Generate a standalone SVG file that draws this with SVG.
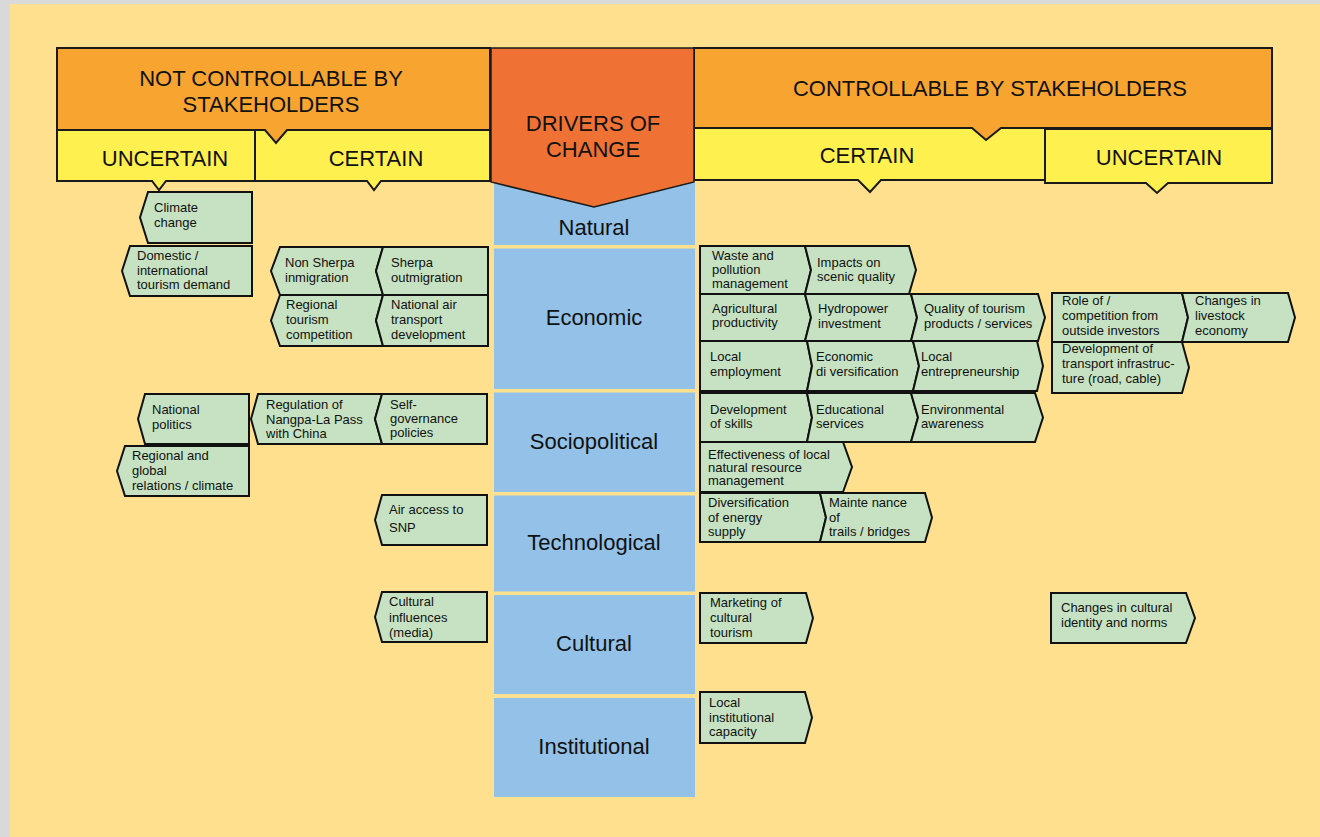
<svg xmlns="http://www.w3.org/2000/svg" width="1320" height="837" viewBox="0 0 1320 837">
<style>
.hdr{fill:#F7A431;stroke:#1a1a1a;stroke-width:2;stroke-linejoin:miter}
.yel{fill:#FEF04E;stroke:#1a1a1a;stroke-width:2}
.ctr{fill:#F07134;stroke:#1a1a1a;stroke-width:1.5}
.blue{fill:#93C1E7}
.node{fill:#C6E2C2;stroke:#111;stroke-width:2;stroke-linejoin:miter}
.ht{font-family:"Liberation Sans",Arial,sans-serif;font-size:22px;fill:#111;text-anchor:middle}
.bt{font-family:"Liberation Sans",Arial,sans-serif;font-size:22px;fill:#111;text-anchor:middle}
.nt{font-family:"Liberation Sans",Arial,sans-serif;font-size:13px;fill:#111}
</style>
<rect x="0" y="0" width="1320" height="837" fill="#D9D9D9"/>
<rect x="10" y="4" width="1310" height="833" fill="#FEE08F"/>

<g id="header-left">
<path class="yel" d="M57,130 H255 V181 H166 L159,190 L152,181 H57 Z"/>
<path class="yel" d="M255,130 H490 V181 H381 L374,190 L367,181 H255 Z"/>
<path class="hdr" d="M57,48 H490 V130 H287 L276,143 L265,130 H57 Z"/>
<text class="ht" x="271" y="86">NOT CONTROLLABLE BY</text>
<text class="ht" x="271" y="112">STAKEHOLDERS</text>
<text class="ht" x="165" y="166">UNCERTAIN</text>
<text class="ht" x="376" y="166">CERTAIN</text>
</g>

<g id="header-right">
<path class="yel" d="M694,128 H1045 V180 H881 L870,192 L858,180 H694 Z"/>
<path class="yel" d="M1045,129 H1272 V183 H1168 L1157,193 L1146,183 H1045 Z"/>
<path class="hdr" d="M694,48 H1272 V128 H1001 L986,140 L972,128 H694 Z"/>
<text class="ht" x="990" y="96">CONTROLLABLE BY STAKEHOLDERS</text>
<text class="ht" x="867" y="163">CERTAIN</text>
<text class="ht" x="1159" y="165">UNCERTAIN</text>
</g>

<g id="drivers">
<rect class="blue" x="494" y="183" width="201" height="62"/>
<rect class="blue" x="494" y="248.5" width="201" height="140.5"/>
<rect class="blue" x="494" y="392.5" width="201" height="99.5"/>
<rect class="blue" x="494" y="495.5" width="201" height="96"/>
<rect class="blue" x="494" y="595" width="201" height="99"/>
<rect class="blue" x="494" y="698" width="201" height="99"/>
<path class="ctr" d="M491,48 H694 V182 L594,207 L491,182 Z"/>
<text class="ht" x="593" y="131">DRIVERS OF</text>
<text class="ht" x="593" y="157">CHANGE</text>
<text class="bt" x="594" y="235">Natural</text>
<text class="bt" x="594" y="325">Economic</text>
<text class="bt" x="594" y="449">Sociopolitical</text>
<text class="bt" x="594" y="550">Technological</text>
<text class="bt" x="594" y="651">Cultural</text>
<text class="bt" x="594" y="754">Institutional</text>
</g>

<g id="connectors"></g>

<g id="n-climate"><path class="node" d="M148,192 H252 V243 H148 L140,217.5 Z"/>
<text class="nt" x="154"><tspan x="154" y="212">Climate</tspan><tspan x="154" y="227">change</tspan></text></g>
<g id="n-domestic"><path class="node" d="M130,246 H252 V296 H130 L122,271 Z"/>
<text class="nt"><tspan x="137" y="260">Domestic /</tspan><tspan x="137" y="275">international</tspan><tspan x="137" y="289">tourism demand</tspan></text></g>
<g id="n-nonsherpa"><path class="node" d="M280,247 H383 L376,271 L383,295 H280 L271,271 Z"/>
<text class="nt"><tspan x="285" y="267">Non Sherpa</tspan><tspan x="285" y="282">inmigration</tspan></text></g>
<g id="n-sherpa"><path class="node" d="M383,247 H488 V295 H383 L376,271 Z"/>
<text class="nt"><tspan x="391" y="267">Sherpa</tspan><tspan x="391" y="282">outmigration</tspan></text></g>
<g id="n-regtourism"><path class="node" d="M280,295 H383 L376,320.5 L383,346 H280 L271,320.5 Z"/>
<text class="nt"><tspan x="286" y="309">Regional</tspan><tspan x="286" y="324">tourism</tspan><tspan x="286" y="339">competition</tspan></text></g>
<g id="n-natair"><path class="node" d="M383,295 H488 V346 H383 L376,320.5 Z"/>
<text class="nt"><tspan x="391" y="309">National air</tspan><tspan x="391" y="324">transport</tspan><tspan x="391" y="339">development</tspan></text></g>
<g id="n-natpolitics"><path class="node" d="M145,394 H249 V444 H145 L138,419 Z"/>
<text class="nt"><tspan x="152" y="414">National</tspan><tspan x="152" y="429">politics</tspan></text></g>
<g id="n-regglobal"><path class="node" d="M125,446 H249 V496 H125 L117,471 Z"/>
<text class="nt"><tspan x="132" y="460">Regional and</tspan><tspan x="132" y="475">global</tspan><tspan x="132" y="490">relations / climate</tspan></text></g>
<g id="n-nangpa"><path class="node" d="M258,394 H382 L375,419 L382,444 H258 L251,419 Z"/>
<text class="nt"><tspan x="266" y="409">Regulation of</tspan><tspan x="266" y="424">Nangpa-La Pass</tspan><tspan x="266" y="438">with China</tspan></text></g>
<g id="n-selfgov"><path class="node" d="M382,394 H487 V444 H382 L375,419 Z"/>
<text class="nt"><tspan x="390" y="409">Self-</tspan><tspan x="390" y="423">governance</tspan><tspan x="390" y="437">policies</tspan></text></g>
<g id="n-airaccess"><path class="node" d="M382,495 H487 V545 H382 L375,520 Z"/>
<text class="nt"><tspan x="389" y="514">Air access to</tspan><tspan x="389" y="532">SNP</tspan></text></g>
<g id="n-culturalinfl"><path class="node" d="M382,592 H487 V642 H382 L375,617 Z"/>
<text class="nt"><tspan x="389" y="606">Cultural</tspan><tspan x="389" y="622">influences</tspan><tspan x="389" y="637">(media)</tspan></text></g>

<g id="n-waste"><path class="node" d="M700,246 H805 L811,270 L805,294 H700 Z"/>
<text class="nt"><tspan x="712" y="260">Waste and</tspan><tspan x="712" y="274">pollution</tspan><tspan x="712" y="288">management</tspan></text></g>
<g id="n-scenic"><path class="node" d="M805,246 H909 L916,270 L909,294 H805 L811,270 Z"/>
<text class="nt"><tspan x="817" y="267">Impacts on</tspan><tspan x="817" y="281">scenic quality</tspan></text></g>
<g id="n-agri"><path class="node" d="M700,294 H805 L811,317.5 L805,341 H700 Z"/>
<text class="nt"><tspan x="712" y="313">Agricultural</tspan><tspan x="712" y="327">productivity</tspan></text></g>
<g id="n-hydro"><path class="node" d="M805,294 H911 L917,317.5 L911,341 H805 L811,317.5 Z"/>
<text class="nt"><tspan x="818" y="313">Hydropower</tspan><tspan x="818" y="328">investment</tspan></text></g>
<g id="n-quality"><path class="node" d="M911,294 H1038 L1045,317.5 L1038,341 H911 L917,317.5 Z"/>
<text class="nt"><tspan x="924" y="313">Quality of tourism</tspan><tspan x="924" y="328">products / services</tspan></text></g>
<g id="n-localemp"><path class="node" d="M700,341 H807 L812,366 L807,391 H700 Z"/>
<text class="nt"><tspan x="710" y="361">Local</tspan><tspan x="710" y="376">employment</tspan></text></g>
<g id="n-econdiv"><path class="node" d="M807,341 H913 L919,366 L913,391 H807 L812,366 Z"/>
<text class="nt"><tspan x="816" y="361">Economic</tspan><tspan x="816" y="376">di versification</tspan></text></g>
<g id="n-localent"><path class="node" d="M913,341 H1037 L1043,366 L1037,391 H913 L919,366 Z"/>
<text class="nt"><tspan x="921" y="361">Local</tspan><tspan x="921" y="376">entrepreneurship</tspan></text></g>
<g id="n-skills"><path class="node" d="M700,393 H807 L812,417.5 L807,442 H700 Z"/>
<text class="nt"><tspan x="710" y="414">Development</tspan><tspan x="710" y="428">of skills</tspan></text></g>
<g id="n-edu"><path class="node" d="M807,393 H911 L918,417.5 L911,442 H807 L812,417.5 Z"/>
<text class="nt"><tspan x="816" y="414">Educational</tspan><tspan x="816" y="428">services</tspan></text></g>
<g id="n-env"><path class="node" d="M911,393 H1035 L1043,417.5 L1035,442 H911 L918,417.5 Z"/>
<text class="nt"><tspan x="921" y="414">Environmental</tspan><tspan x="921" y="428">awareness</tspan></text></g>
<g id="n-effect"><path class="node" d="M700,442 H843 L852,467 L843,492 H700 Z"/>
<text class="nt"><tspan x="708" y="459">Effectiveness of local</tspan><tspan x="708" y="472">natural resource</tspan><tspan x="708" y="485">management</tspan></text></g>
<g id="n-energy"><path class="node" d="M700,493 H820 L826,517.5 L820,542 H700 Z"/>
<text class="nt"><tspan x="708" y="507">Diversification</tspan><tspan x="708" y="522">of energy</tspan><tspan x="708" y="536">supply</tspan></text></g>
<g id="n-trails"><path class="node" d="M820,493 H925 L932,517.5 L925,542 H820 L826,517.5 Z"/>
<text class="nt"><tspan x="829" y="507">Mainte nance</tspan><tspan x="829" y="522">of</tspan><tspan x="829" y="536">trails / bridges</tspan></text></g>
<g id="n-marketing"><path class="node" d="M700,593 H806 L813,618 L806,643 H700 Z"/>
<text class="nt"><tspan x="710" y="607">Marketing of</tspan><tspan x="710" y="622">cultural</tspan><tspan x="710" y="637">tourism</tspan></text></g>
<g id="n-localinst"><path class="node" d="M700,692 H805 L812,717.5 L805,743 H700 Z"/>
<text class="nt"><tspan x="709" y="707">Local</tspan><tspan x="709" y="722">institutional</tspan><tspan x="709" y="736">capacity</tspan></text></g>
<g id="n-investors"><path class="node" d="M1052,293 H1182 L1188,317.5 L1182,342 H1052 Z"/>
<text class="nt"><tspan x="1062" y="305">Role of /</tspan><tspan x="1062" y="320">competition from</tspan><tspan x="1062" y="335">outside investors</tspan></text></g>
<g id="n-livestock"><path class="node" d="M1182,293 H1288 L1295,317.5 L1288,342 H1182 L1188,317.5 Z"/>
<text class="nt"><tspan x="1195" y="305">Changes in</tspan><tspan x="1195" y="320">livestock</tspan><tspan x="1195" y="335">economy</tspan></text></g>
<g id="n-transport"><path class="node" d="M1052,342 H1182 L1189,367.5 L1182,393 H1052 Z"/>
<text class="nt"><tspan x="1062" y="353">Development of</tspan><tspan x="1062" y="368">transport infrastruc-</tspan><tspan x="1062" y="383">ture (road, cable)</tspan></text></g>
<g id="n-culturalid"><path class="node" d="M1051,593 H1186 L1195,618 L1186,643 H1051 Z"/>
<text class="nt"><tspan x="1061" y="612">Changes in cultural</tspan><tspan x="1061" y="627">identity and norms</tspan></text></g>
</svg>
